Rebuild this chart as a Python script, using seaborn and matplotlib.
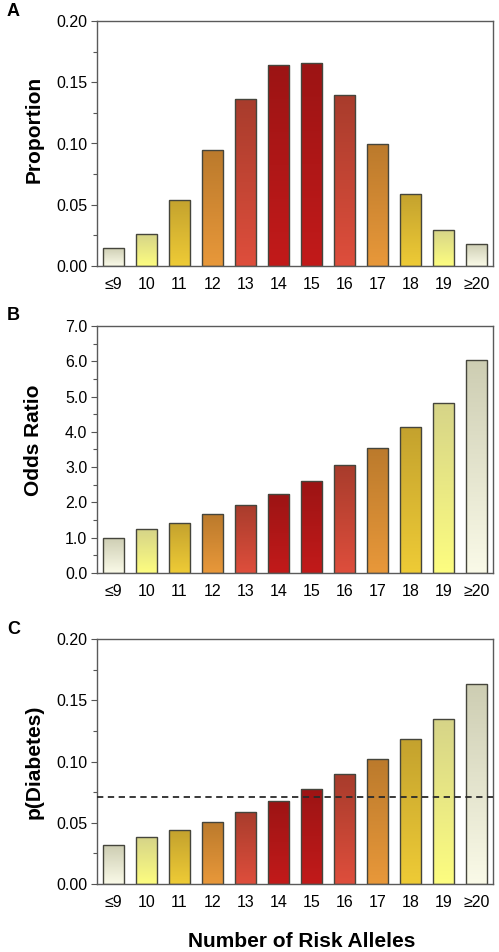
import matplotlib
matplotlib.use("Agg")
import matplotlib.pyplot as plt
from matplotlib.ticker import AutoMinorLocator, FormatStrFormatter, MultipleLocator
import seaborn as sns
import numpy as np
import pandas as pd

alleles = ["≤9", "10", "11", "12", "13", "14", "15", "16", "17", "18", "19", "≥20"]
proportion = [0.0147, 0.0258, 0.054, 0.0946, 0.136, 0.164, 0.1655, 0.1397, 0.0992, 0.059, 0.0296, 0.0182]
odds_ratio = [1.0, 1.24, 1.43, 1.67, 1.93, 2.25, 2.62, 3.06, 3.55, 4.13, 4.82, 6.05]
p_diabetes = [0.0316, 0.0381, 0.0438, 0.0509, 0.059, 0.0678, 0.0776, 0.0895, 0.1023, 0.118, 0.135, 0.1635]
baseline = 0.071

# gradient colours (top, bottom) per allele count
top_cols = ["#cdcdb2", "#d6d488", "#c4a22e", "#bb7a2c", "#a83c2c", "#9c1414",
            "#9c1414", "#a83c2c", "#bb7a2c", "#c4a22e", "#d6d488", "#cdcdb2"]
bot_cols = ["#fafae8", "#fdfd80", "#eecb36", "#e8983a", "#de4e3c", "#c21a1a",
            "#c21a1a", "#de4e3c", "#e8983a", "#eecb36", "#fdfd80", "#fafae8"]

sns.set_style("white")
plt.rcParams["font.family"] = ["Liberation Sans", "DejaVu Sans"]
plt.rcParams["text.color"] = "black"
plt.rcParams["axes.labelcolor"] = "black"
plt.rcParams["xtick.color"] = "black"
plt.rcParams["ytick.color"] = "black"

fig = plt.figure(figsize=(4.99, 9.52), dpi=100)
L, W = 97 / 499, 396 / 499
panels = [
    ("A", proportion, "Proportion", (0.0, 0.20), 0.05, "%.2f", 1 - 266 / 952, 245 / 952, 0.559),
    ("B", odds_ratio, "Odds Ratio", (0.0, 7.0), 1.0, "%.1f", 1 - 573 / 952, 247 / 952, 0.538),
    ("C", p_diabetes, "p(Diabetes)", (0.0, 0.20), 0.05, "%.2f", 1 - 884 / 952, 245 / 952, 0.5),
]


def gradient_bars(ax, ylim):
    for i, patch in enumerate(ax.patches):
        x, y = patch.get_x(), patch.get_y()
        w, h = patch.get_width(), patch.get_height()
        t = np.linspace(0, 1, 128)[:, None]
        c0 = np.array(matplotlib.colors.to_rgb(top_cols[i]))
        c1 = np.array(matplotlib.colors.to_rgb(bot_cols[i]))
        img = (c0 * (1 - t) + c1 * t)[:, None, :]
        im = ax.imshow(img, extent=[x, x + w, y, y + h], aspect="auto",
                       interpolation="bilinear", zorder=patch.get_zorder() - 0.1)
        im.set_clip_path(patch)
        patch.set_facecolor("none")
    ax.set_xlim(-0.5, len(alleles) - 0.5)
    ax.set_ylim(*ylim)


for letter, vals, ylab, ylim, step, fmt, bottom, height, ycen in panels:
    ax = fig.add_axes([L, bottom, W, height])
    df = pd.DataFrame({"alleles": alleles, "value": vals})
    sns.barplot(data=df, x="alleles", y="value", hue="alleles", palette=top_cols,
                legend=False, width=0.64, edgecolor="#45453c", linewidth=1.0, ax=ax)
    gradient_bars(ax, ylim)
    if letter == "C":
        ax.axhline(baseline, color="#2a2a2a", lw=1.3, ls=(0, (3.5, 2.5)), zorder=5)

    ax.yaxis.set_major_locator(MultipleLocator(step))
    ax.yaxis.set_minor_locator(AutoMinorLocator(2))
    ax.yaxis.set_major_formatter(FormatStrFormatter(fmt))
    ax.tick_params(axis="y", which="major", direction="out", length=4, width=0.8,
                   color="#555555", labelcolor="black", labelsize=11.5, left=True, pad=3)
    ax.tick_params(axis="y", which="minor", direction="out", length=3, width=0.8,
                   color="#555555", left=True)
    ax.tick_params(axis="x", length=0, labelsize=11.5, labelcolor="black", pad=8)
    for s in ax.spines.values():
        s.set_color("#5a5a5a")
        s.set_linewidth(1.0)

    ax.set_ylabel(ylab, fontsize=15, fontweight="bold", color="black")
    ax.yaxis.set_label_coords(-0.136, ycen)
    if letter == "C":
        ax.set_xlabel("Number of Risk Alleles", fontsize=15, fontweight="bold", color="black")
        ax.xaxis.set_label_coords(0.516, -0.196)
    else:
        ax.set_xlabel("")

    top_px = (1 - bottom - height) * 952
    fig.text(7 / 499, 1 - (top_px - 10) / 952, letter, fontsize=13,
             fontweight="bold", ha="left", va="center", color="black")

fig.savefig("out.png", dpi=100)
